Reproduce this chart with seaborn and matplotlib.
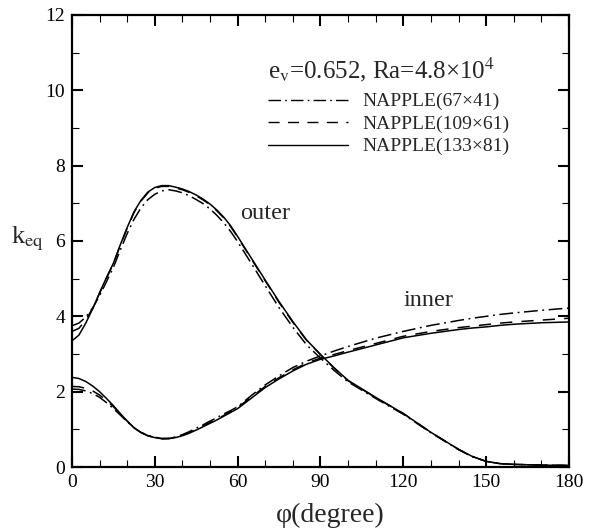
import numpy as np
import pandas as pd
import seaborn as sns
import matplotlib
matplotlib.use("Agg")
import matplotlib.pyplot as plt
from matplotlib.ticker import MultipleLocator

# ---- data ----
phi = [0, 2.5, 5, 7.5, 10, 12.5, 15, 17.5, 20, 22.5, 25, 27.5, 30, 32.5, 35, 37.5, 40,
       42.5, 45, 47.5, 50, 52.5, 55, 57.5, 60,
       65, 70, 75, 80, 85, 90, 95, 100,
       110, 120, 130, 140, 145, 150, 155, 160, 170, 180]

outer_133x81 = [3.35, 3.50, 3.82, 4.20, 4.63, 5.03, 5.41, 5.90, 6.36, 6.78, 7.08, 7.30, 7.42,
                7.47, 7.47, 7.43, 7.38, 7.31, 7.22, 7.11, 6.98, 6.82, 6.63, 6.40, 6.12,
                5.54, 4.96, 4.39, 3.86, 3.37, 2.99, 2.63, 2.30,
                1.85, 1.42, 0.92, 0.47, 0.28, 0.15, 0.09, 0.07, 0.05, 0.04]
outer_109x61 = [3.60, 3.68, 3.90, 4.22, 4.61, 5.01, 5.40, 5.88, 6.34, 6.76, 7.06, 7.28, 7.40,
                7.45, 7.45, 7.41, 7.36, 7.29, 7.20, 7.09, 6.96, 6.80, 6.61, 6.38, 6.10,
                5.52, 4.94, 4.37, 3.84, 3.36, 2.98, 2.62, 2.29,
                1.84, 1.42, 0.92, 0.47, 0.28, 0.15, 0.09, 0.07, 0.05, 0.04]
outer_67x41 = [3.75, 3.82, 3.98, 4.22, 4.55, 4.92, 5.30, 5.76, 6.20, 6.58, 6.88, 7.10, 7.24,
               7.33, 7.36, 7.33, 7.28, 7.20, 7.10, 6.99, 6.85, 6.68, 6.48, 6.25, 5.98,
               5.40, 4.81, 4.23, 3.71, 3.24, 2.89, 2.56, 2.26,
               1.82, 1.40, 0.91, 0.46, 0.27, 0.15, 0.09, 0.07, 0.05, 0.04]

inner_133x81 = [2.38, 2.35, 2.27, 2.15, 2.00, 1.82, 1.63, 1.42, 1.22, 1.04, 0.91, 0.83, 0.78,
                0.75, 0.75, 0.78, 0.83, 0.90, 0.98, 1.07, 1.16, 1.25, 1.35, 1.45, 1.55,
                1.83, 2.11, 2.34, 2.55, 2.73, 2.86, 2.95, 3.05,
                3.24, 3.43, 3.55, 3.65, 3.69, 3.72, 3.76, 3.79, 3.83, 3.85]
inner_109x61 = [2.14, 2.13, 2.09, 2.02, 1.91, 1.77, 1.60, 1.41, 1.22, 1.04, 0.92, 0.83, 0.78,
                0.75, 0.76, 0.79, 0.84, 0.91, 1.00, 1.09, 1.18, 1.27, 1.37, 1.47, 1.58,
                1.86, 2.14, 2.37, 2.58, 2.76, 2.89, 2.99, 3.09,
                3.28, 3.47, 3.60, 3.70, 3.74, 3.78, 3.82, 3.85, 3.90, 3.95]
inner_67x41 = [2.07, 2.06, 2.02, 1.95, 1.85, 1.71, 1.55, 1.38, 1.20, 1.04, 0.92, 0.84, 0.79,
               0.76, 0.76, 0.80, 0.86, 0.94, 1.03, 1.12, 1.22, 1.31, 1.41, 1.50, 1.60,
               1.90, 2.18, 2.42, 2.64, 2.81, 2.95, 3.08, 3.20,
               3.42, 3.60, 3.76, 3.89, 3.95, 4.00, 4.05, 4.09, 4.16, 4.22]

meshes = ["NAPPLE(67×41)", "NAPPLE(109×61)", "NAPPLE(133×81)"]

rows = []
for mesh, o, i in zip(meshes, [outer_67x41, outer_109x61, outer_133x81],
                      [inner_67x41, inner_109x61, inner_133x81]):
    for p, v in zip(phi, o):
        rows.append((mesh, "outer", p, v))
    for p, v in zip(phi, i):
        rows.append((mesh, "inner", p, v))
df = pd.DataFrame(rows, columns=["mesh", "curve", "phi", "k"])

# ---- styling ----
sns.set_theme(style="ticks")
plt.rcParams["font.family"] = ["Liberation Serif", "DejaVu Serif"]
plt.rcParams["mathtext.fontset"] = "stix"

fig = plt.figure(figsize=(5.89, 5.31), dpi=100)
ax = fig.add_axes([0.1222, 0.1205, 0.8438, 0.8513])

dashes = {
    "NAPPLE(67×41)": (9, 3, 1.2, 3),
    "NAPPLE(109×61)": (8, 6),
    "NAPPLE(133×81)": "",
}
sns.lineplot(data=df, x="phi", y="k", style="mesh", style_order=meshes,
             units="curve", estimator=None, color="black", dashes=dashes,
             linewidth=1.1, sort=False, legend=True, ax=ax)

ax.set_xlim(0, 180)
ax.set_ylim(0, 12)
ax.xaxis.set_major_locator(MultipleLocator(30))
ax.xaxis.set_minor_locator(MultipleLocator(10))
ax.yaxis.set_major_locator(MultipleLocator(2))
ax.yaxis.set_minor_locator(MultipleLocator(1))
ax.tick_params(which="both", direction="in", top=True, right=True, colors="black",
               labelsize=14)
ax.tick_params(which="major", length=8, width=1.5, pad=5)
ax.tick_params(which="minor", length=5, width=0.8)
for s in ax.spines.values():
    s.set_linewidth(1.6)
    s.set_color("black")

ax.set_xlabel("φ(degree)", fontsize=20)
ax.xaxis.set_label_coords(0.52, -0.106)
ax.xaxis.label.set_va("center")
ax.set_ylabel(r"k$_{\mathrm{eq}}$", fontsize=19, rotation=0, ha="left", va="center")
ax.yaxis.set_label_coords(-0.122, 0.505)

ax.text(71, 10.55, r"e$_{\mathrm{v}}$=0.652, Ra=4.8×10$^{4}$", fontsize=18,
        ha="left", va="center")
ax.text(70, 6.72, "outer", fontsize=17.5, ha="center", va="center")
ax.text(129, 4.42, "inner", fontsize=17.5, ha="center", va="center")

handles, labels = ax.get_legend_handles_labels()
for h in handles:
    h.set_linewidth(1.0)
ax.legend(handles, labels, loc="upper left", bbox_to_anchor=(0.394, 0.828),
          frameon=False, fontsize=14, handlelength=4.1, handletextpad=0.75,
          labelspacing=0.25, borderpad=0, borderaxespad=0)

fig.savefig("out.png", dpi=100)
